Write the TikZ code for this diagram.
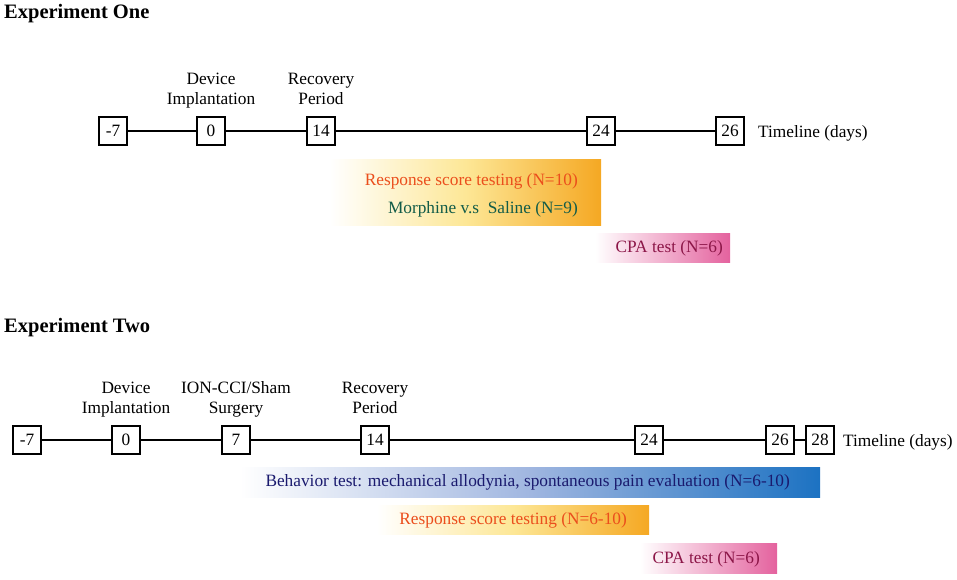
\documentclass[tikz,border=0pt]{standalone}
\usepackage{fontspec}
\setmainfont{Liberation Serif}
\usetikzlibrary{positioning}

\definecolor{orng}{RGB}{245,168,35}
\definecolor{lorng}{RGB}{253,231,150}
\definecolor{pnk}{RGB}{228,98,158}
\definecolor{blu}{RGB}{28,114,194}
\definecolor{lblu}{RGB}{160,182,224}
\definecolor{redtxt}{RGB}{235,78,28}
\definecolor{grntxt}{RGB}{18,92,72}
\definecolor{pnktxt}{RGB}{140,22,72}
\definecolor{blutxt}{RGB}{26,26,110}

\tikzstyle{d} = [rectangle, draw, line width=1.3pt, fill=white, minimum size=28pt, inner sep=0pt, font=\fontsize{17.3}{20}\selectfont]
\tikzstyle{t} = [align=center, text depth=4pt, font=\fontsize{17.3}{20}\selectfont]
\tikzstyle{f} = [anchor=base east, inner sep=0pt, font=\fontsize{17.3}{20}\selectfont]
\tikzstyle{h} = [anchor=base west, inner sep=0pt, font=\fontsize{20.5}{24}\selectfont\bfseries]
\tikzstyle{o} = [rectangle, inner sep=0pt, left color=white, right color=orng, middle color=lorng]
\tikzstyle{p} = [rectangle, inner sep=0pt, left color=white, right color=pnk]
\tikzstyle{q} = [rectangle, inner sep=0pt, left color=white, right color=blu, middle color=lblu]
\tikzstyle{ln} = [line width=1.3pt]

\begin{document}
\begin{tikzpicture}[x=1pt, y=-1pt]
	\useasboundingbox (0,0) rectangle (957,579);

	% Experiment One
	\node [h] (e1) at (4,18.5) {Experiment One};

	\node [d] (a1) at (113,131) {-7};
	\node [d] (b1) at (211,131) {0};
	\node [d] (c1) at (321,131) {14};
	\node [d] (d1) at (601,131) {24};
	\node [d] (f1) at (730,131) {26};
	\node [f, anchor=base west] (tl1) at (758,137) {Timeline (days)};

	\node [t, above=4pt of b1] (dev1) {Device\\Implantation};
	\node [t, above=4pt of c1] (rec1) {Recovery\\Period};

	\draw [ln] (a1) -- (b1);
	\draw [ln] (b1) -- (c1);
	\draw [ln] (c1) -- (d1);
	\draw [ln] (d1) -- (f1);

	\node [o, minimum width=271pt, minimum height=66pt] (rs1) at (465.5,192) {};
	\node [p, minimum width=135pt, minimum height=29pt] (cpa1) at (662.5,247.5) {};
	\node [f, text=redtxt] (rs1a) at (578,185) {Response score testing (N=10)};
	\node [f, text=grntxt] (rs1b) at (578,213) {Morphine v.s\ \ Saline (N=9)};
	\node [f, text=pnktxt] (cpa1a) at (723,252) {CPA test (N=6)};

	% Experiment Two
	\node [h] (e2) at (4,332.5) {Experiment Two};

	\node [d] (a2) at (27,440) {-7};
	\node [d] (b2) at (126,440) {0};
	\node [d] (c2) at (236,440) {7};
	\node [d] (d2) at (375,440) {14};
	\node [d] (g2) at (649,440) {24};
	\node [d] (h2) at (780,440) {26};
	\node [d] (k2) at (820,440) {28};
	\node [f, anchor=base west] (tl2) at (843,446) {Timeline (days)};

	\node [t, above=4pt of b2] (dev2) {Device\\Implantation};
	\node [t, above=4pt of c2] (ion2) {ION-CCI/Sham\\Surgery};
	\node [t, above=4pt of d2] (rec2) {Recovery\\Period};

	\draw [ln] (a2) -- (b2);
	\draw [ln] (b2) -- (c2);
	\draw [ln] (c2) -- (d2);
	\draw [ln] (d2) -- (g2);
	\draw [ln] (g2) -- (h2);
	\draw [ln] (h2) -- (k2);

	\node [q, minimum width=580pt, minimum height=30pt] (bt2) at (530,482) {};
	\node [o, minimum width=272pt, minimum height=29pt] (rs2) at (513,519.5) {};
	\node [p, minimum width=137pt, minimum height=30pt] (cpa2) at (708.5,558) {};
	\node [f, text=blutxt] (bt2a) at (790,486) {Behavior test: mechanical allodynia, spontaneous pain evaluation (N=6-10)};
	\node [f, text=redtxt] (rs2a) at (627,524) {Response score testing (N=6-10)};
	\node [f, text=pnktxt] (cpa2a) at (760,563) {CPA test (N=6)};
\end{tikzpicture}
\end{document}
